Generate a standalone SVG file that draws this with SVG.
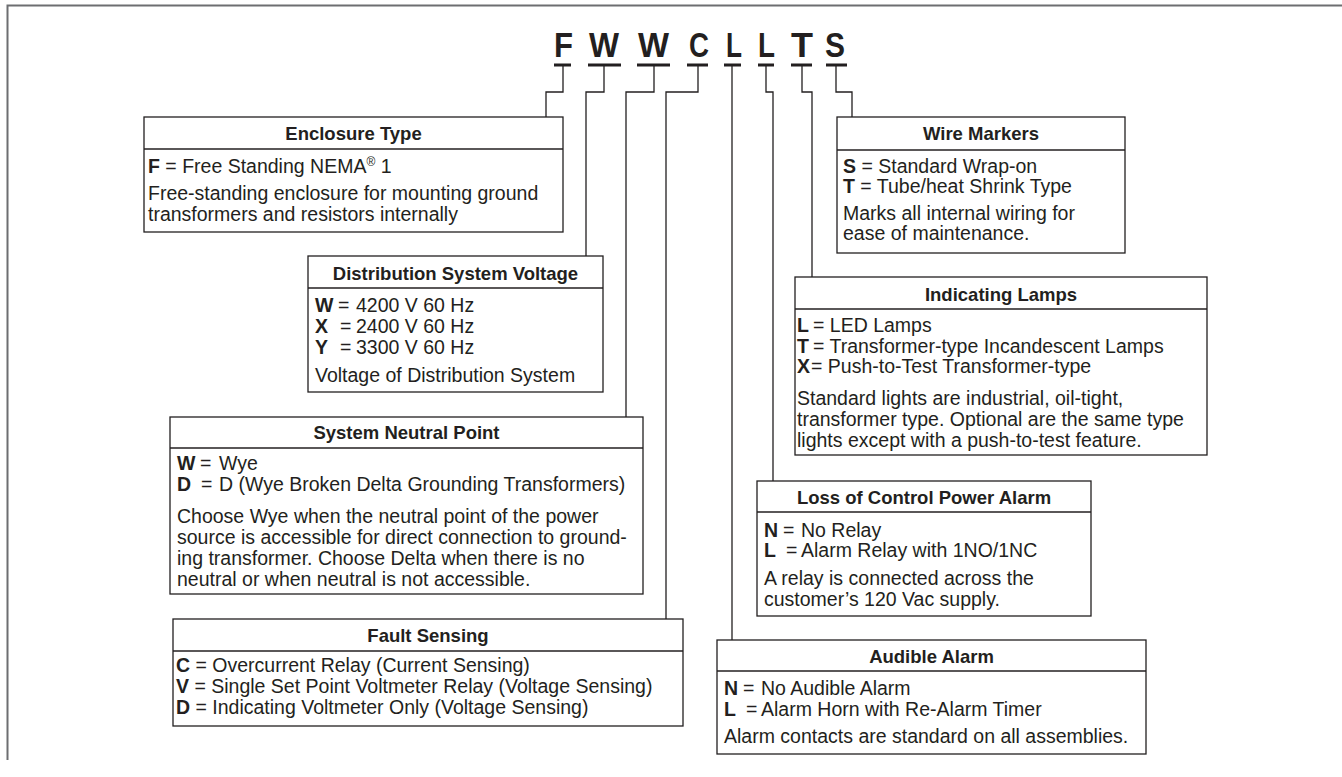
<svg xmlns="http://www.w3.org/2000/svg" width="1342" height="777" viewBox="0 0 1342 777">
<style>
.frame{fill:none;stroke:#6d6e71;stroke-width:2}
.box{fill:#fff;stroke:#231f20;stroke-width:1.3}
.sep{stroke:#231f20;stroke-width:1.3}
.conn{fill:none;stroke:#231f20;stroke-width:1.3}
.ul{fill:#231f20}
text{font-family:"Liberation Sans",Arial,Helvetica,sans-serif;fill:#231f20}
.t{font-size:19.5px}
.h{font-size:18.5px;font-weight:bold;text-anchor:middle}
.b{font-weight:bold}
.code{font-size:35px;font-weight:bold}
.sup{font-size:12px}
</style>
<rect width="1342" height="777" fill="#fff"/>
<path class="frame" d="M7.5 760 V5.5 H1342"/>

<g id="code">
<text class="code" x="554" y="57" textLength="19" lengthAdjust="spacingAndGlyphs">F</text>
<text class="code" x="589" y="57" textLength="30" lengthAdjust="spacingAndGlyphs">W</text>
<text class="code" x="638" y="57" textLength="31" lengthAdjust="spacingAndGlyphs">W</text>
<text class="code" x="689" y="57" textLength="20" lengthAdjust="spacingAndGlyphs">C</text>
<text class="code" x="726" y="57" textLength="16" lengthAdjust="spacingAndGlyphs">L</text>
<text class="code" x="758" y="57" textLength="17" lengthAdjust="spacingAndGlyphs">L</text>
<text class="code" x="791" y="57" textLength="22" lengthAdjust="spacingAndGlyphs">T</text>
<text class="code" x="825" y="57" textLength="20" lengthAdjust="spacingAndGlyphs">S</text>
<rect class="ul" x="554" y="63.5" width="17" height="3"/>
<rect class="ul" x="588" y="63.5" width="33" height="3"/>
<rect class="ul" x="637" y="63.5" width="33" height="3"/>
<rect class="ul" x="687" y="63.5" width="21" height="3"/>
<rect class="ul" x="724" y="63.5" width="17" height="3"/>
<rect class="ul" x="758" y="63.5" width="16" height="3"/>
<rect class="ul" x="791" y="63.5" width="21" height="3"/>
<rect class="ul" x="826" y="63.5" width="21" height="3"/>
</g>

<g id="connectors">
<path class="conn" d="M563 66 V92 H546 V117"/>
<path class="conn" d="M604 66 V92 H586 V256"/>
<path class="conn" d="M654 66 V92 H626 V417"/>
<path class="conn" d="M698 66 V92 H666 V619"/>
<path class="conn" d="M732 66 V640"/>
<path class="conn" d="M766 66 V92 H773 V481"/>
<path class="conn" d="M802 66 V92 H812 V277"/>
<path class="conn" d="M836 66 V92 H852 V117"/>
</g>

<g id="enclosure">
<rect class="box" x="144" y="117" width="419" height="115"/>
<line class="sep" x1="144" y1="149" x2="563" y2="149"/>
<text class="h" x="353.5" y="140">Enclosure Type</text>
<text class="t" x="148" y="173"><tspan class="b">F</tspan> = Free Standing NEMA<tspan class="sup" dy="-7">®</tspan><tspan dy="7"> 1</tspan></text>
<text class="t" x="148" y="200">Free-standing enclosure for mounting ground</text>
<text class="t" x="148" y="221">transformers and resistors internally</text>
</g>

<g id="distribution">
<rect class="box" x="308" y="256" width="295" height="136"/>
<line class="sep" x1="308" y1="288" x2="603" y2="288"/>
<text class="h" x="455.5" y="280">Distribution System Voltage</text>
<text class="t" y="312"><tspan class="b" x="315">W</tspan><tspan x="338">=</tspan><tspan x="356">4200 V 60 Hz</tspan></text>
<text class="t" y="333"><tspan class="b" x="315">X</tspan><tspan x="340">=</tspan><tspan x="356">2400 V 60 Hz</tspan></text>
<text class="t" y="354"><tspan class="b" x="315">Y</tspan><tspan x="340">=</tspan><tspan x="356">3300 V 60 Hz</tspan></text>
<text class="t" x="315" y="382">Voltage of Distribution System</text>
</g>

<g id="neutral">
<rect class="box" x="170" y="417" width="473" height="177"/>
<line class="sep" x1="170" y1="448" x2="643" y2="448"/>
<text class="h" x="406.5" y="439">System Neutral Point</text>
<text class="t" y="470"><tspan class="b" x="177">W</tspan><tspan x="200">=</tspan><tspan x="219">Wye</tspan></text>
<text class="t" y="491"><tspan class="b" x="177">D</tspan><tspan x="201">=</tspan><tspan x="219">D (Wye Broken Delta Grounding Transformers)</tspan></text>
<text class="t" x="177" y="523">Choose Wye when the neutral point of the power</text>
<text class="t" x="177" y="544">source is accessible for direct connection to ground-</text>
<text class="t" x="177" y="565">ing transformer. Choose Delta when there is no</text>
<text class="t" x="177" y="586">neutral or when neutral is not accessible.</text>
</g>

<g id="fault">
<rect class="box" x="173" y="619" width="510" height="107"/>
<line class="sep" x1="173" y1="651" x2="683" y2="651"/>
<text class="h" x="428" y="642">Fault Sensing</text>
<text class="t" x="176" y="672"><tspan class="b">C</tspan> = Overcurrent Relay (Current Sensing)</text>
<text class="t" x="176" y="693"><tspan class="b">V</tspan> = Single Set Point Voltmeter Relay (Voltage Sensing)</text>
<text class="t" x="176" y="714"><tspan class="b">D</tspan> = Indicating Voltmeter Only (Voltage Sensing)</text>
</g>

<g id="wire">
<rect class="box" x="837" y="117" width="288" height="136"/>
<line class="sep" x1="837" y1="150" x2="1125" y2="150"/>
<text class="h" x="981" y="140">Wire Markers</text>
<text class="t" x="843" y="173"><tspan class="b">S</tspan> = Standard Wrap-on</text>
<text class="t" x="843" y="193"><tspan class="b">T</tspan> = Tube/heat Shrink Type</text>
<text class="t" x="843" y="220">Marks all internal wiring for</text>
<text class="t" x="843" y="240">ease of maintenance.</text>
</g>

<g id="lamps">
<rect class="box" x="795" y="277" width="412" height="178"/>
<line class="sep" x1="795" y1="309" x2="1207" y2="309"/>
<text class="h" x="1001" y="301">Indicating Lamps</text>
<text class="t" y="332"><tspan class="b" x="797">L</tspan><tspan x="813">= LED Lamps</tspan></text>
<text class="t" y="353"><tspan class="b" x="797">T</tspan><tspan x="813">= Transformer-type Incandescent Lamps</tspan></text>
<text class="t" y="373"><tspan class="b" x="797">X</tspan><tspan x="811">= Push-to-Test Transformer-type</tspan></text>
<text class="t" x="797" y="405">Standard lights are industrial, oil-tight,</text>
<text class="t" x="797" y="426">transformer type. Optional are the same type</text>
<text class="t" x="797" y="447">lights except with a push-to-test feature.</text>
</g>

<g id="loss">
<rect class="box" x="757" y="481" width="334" height="135"/>
<line class="sep" x1="757" y1="512" x2="1091" y2="512"/>
<text class="h" x="924" y="504">Loss of Control Power Alarm</text>
<text class="t" y="537"><tspan class="b" x="764">N</tspan><tspan x="783">=</tspan><tspan x="801">No Relay</tspan></text>
<text class="t" y="557"><tspan class="b" x="764">L</tspan><tspan x="786">=</tspan><tspan x="801">Alarm Relay with 1NO/1NC</tspan></text>
<text class="t" x="764" y="585">A relay is connected across the</text>
<text class="t" x="764" y="606">customer’s 120 Vac supply.</text>
</g>

<g id="audible">
<rect class="box" x="717" y="640" width="429" height="114"/>
<line class="sep" x1="717" y1="671" x2="1146" y2="671"/>
<text class="h" x="931.5" y="663">Audible Alarm</text>
<text class="t" y="695"><tspan class="b" x="724">N</tspan><tspan x="743">=</tspan><tspan x="761">No Audible Alarm</tspan></text>
<text class="t" y="716"><tspan class="b" x="724">L</tspan><tspan x="746">=</tspan><tspan x="761">Alarm Horn with Re-Alarm Timer</tspan></text>
<text class="t" x="724" y="743">Alarm contacts are standard on all assemblies.</text>
</g>
</svg>
